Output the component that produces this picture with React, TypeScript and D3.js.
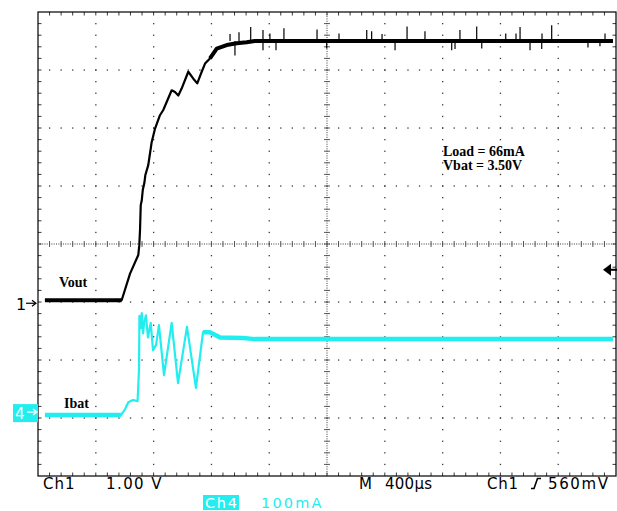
import React from 'react';
import * as d3 from 'd3';

// ---- scope settings ----
const hDivs = 10;
const vDivs = 8;
const timePerDiv = 400; // µs
const ch1VoltsPerDiv = 1; // V
const ch4mAPerDiv = 100; // mA
const ch1GroundDiv = 3.03; // divisions above bottom
const ch4GroundDiv = 1.05;
const triggerLevel = 0.56; // V

// ---- Vout (Ch1) trace: [time µs, volts] ----
const voutPoints: [number, number][] = [
  [48, 0], [579, 0], [637, 0.46], [694, 0.78], [701, 0.95], [706, 1.21], [711, 1.64],
  [718, 1.72], [725, 1.9], [736, 2.02], [743, 2.16], [763, 2.33], [775, 2.53],
  [787, 2.73], [810, 2.96], [844, 3.19], [867, 3.28], [925, 3.62], [948, 3.59],
  [971, 3.53], [994, 3.65], [1040, 3.94], [1075, 3.82], [1102, 3.74], [1133, 3.94],
  [1156, 4.08], [1190, 4.17], [1237, 4.34], [1306, 4.4], [1375, 4.43], [1444, 4.45],
  [1500, 4.47], [3979, 4.47],
];
// noisy (thick) time ranges of Vout: [tStart, tEnd]
const voutNoisy: [number, number][] = [[48, 579], [1190, 3979]];
// Vout spikes: [time µs, extreme volts]
const voutSpikesUp: [number, number][] = [
  [1329, 4.59], [1391, 4.62], [1472, 4.71], [1557, 4.66], [1605, 4.6], [1702, 4.69],
  [1931, 4.67], [2083, 4.6], [2275, 4.66], [2309, 4.64], [2381, 4.59], [2554, 4.72],
  [2678, 4.64], [2920, 4.66], [3036, 4.72], [3237, 4.6], [3308, 4.6], [3336, 4.71],
  [3488, 4.6], [3555, 4.74], [3924, 4.6],
];
const voutSpikesDown: [number, number][] = [
  [1363, 4.22], [1557, 4.31], [1647, 4.31], [1998, 4.34], [2471, 4.31], [2863, 4.31],
  [2886, 4.33], [3071, 4.34], [3405, 4.31], [3486, 4.33], [3806, 4.36], [3889, 4.38],
];

// ---- Ibat (Ch4) trace: [time µs, mA] ----
const ibatPoints: [number, number][] = [
  [48, 0], [574, 0], [602, 10], [625, 22], [657, 26], [689, 24], [699, 78], [702, 171],
  [710, 150], [718, 176], [727, 141], [735, 160], [747, 172], [761, 134], [780, 159],
  [796, 112], [817, 121], [837, 155], [872, 69], [925, 159], [969, 55], [1031, 152],
  [1093, 47], [1142, 143], [1190, 143], [1260, 134], [1419, 133], [1500, 131], [3979, 131],
];
const ibatNoisy: [number, number][] = [[48, 574], [1142, 3979]];

// ---- text ----
const ch1Label = 'Vout';
const ch4Label = 'Ibat';
const noteLines = ['Load = 66mA', 'Vbat = 3.50V'];
const statusTop = { ch: 'Ch1', scale: '1.00 V', m: 'M', time: '400µs', trig: 'Ch1', level: '560mV' };
const statusBottom = { ch: 'Ch4', scale: '100mA' };

const CYAN = '#22EEF0';

export default function App() {
  const L = 38, R = 616, T = 12, B = 476;
  const gx = d3.scaleLinear().domain([0, hDivs]).range([L, R]);
  const gy = d3.scaleLinear().domain([0, vDivs]).range([B, T]);
  const x = d3.scaleLinear().domain([0, hDivs * timePerDiv]).range([L, R]);
  const yV = d3.scaleLinear()
    .domain([-ch1GroundDiv * ch1VoltsPerDiv, (vDivs - ch1GroundDiv) * ch1VoltsPerDiv])
    .range([B, T]);
  const yI = d3.scaleLinear()
    .domain([-ch4GroundDiv * ch4mAPerDiv, (vDivs - ch4GroundDiv) * ch4mAPerDiv])
    .range([B, T]);

  const lineV = d3.line<[number, number]>().x(d => x(d[0])).y(d => yV(d[1]));
  const lineI = d3.line<[number, number]>().x(d => x(d[0])).y(d => yI(d[1]));
  const within = (pts: [number, number][], r: [number, number]) =>
    pts.filter(p => p[0] >= r[0] && p[0] <= r[1]);

  const dots: JSX.Element[] = [];
  const dotFill = '#3a3a3a';
  d3.range(1, hDivs).forEach(i => {
    if (i === hDivs / 2) return;
    d3.range(1, vDivs * 5).forEach(j => {
      dots.push(<rect key={`v${i}-${j}`} x={gx(i) - 0.6} y={gy(j / 5) - 0.6} width={1.3} height={1.3} fill={dotFill} />);
    });
  });
  d3.range(1, vDivs).forEach(j => {
    if (j === vDivs / 2) return;
    d3.range(1, hDivs * 5).forEach(i => {
      dots.push(<rect key={`h${j}-${i}`} x={gx(i / 5) - 0.6} y={gy(j) - 0.6} width={1.3} height={1.3} fill={dotFill} />);
    });
  });
  const cx = gx(hDivs / 2), cy = gy(vDivs / 2);
  d3.range(1, vDivs * 25).forEach(j => {
    dots.push(<rect key={`cv${j}`} x={cx - 0.5} y={gy(j / 25) - 0.5} width={1} height={1} fill={dotFill} />);
  });
  d3.range(1, hDivs * 25).forEach(i => {
    dots.push(<rect key={`ch${i}`} x={gx(i / 25) - 0.5} y={cy - 0.5} width={1} height={1} fill={dotFill} />);
  });
  const ticks: JSX.Element[] = [];
  d3.range(1, vDivs * 5).forEach(j => {
    const yy = gy(j / 5);
    ticks.push(<line key={`ct${j}`} x1={cx - 3} x2={cx + 3} y1={yy} y2={yy} stroke="#444" strokeWidth={0.9} />);
    ticks.push(<line key={`lt${j}`} x1={L} x2={L + 3.5} y1={yy} y2={yy} stroke="#222" strokeWidth={0.9} />);
    ticks.push(<line key={`rt${j}`} x1={R - 3.5} x2={R} y1={yy} y2={yy} stroke="#222" strokeWidth={0.9} />);
  });
  d3.range(1, hDivs * 5).forEach(i => {
    const xx = gx(i / 5);
    ticks.push(<line key={`cth${i}`} x1={xx} x2={xx} y1={cy - 3} y2={cy + 3} stroke="#444" strokeWidth={0.9} />);
    ticks.push(<line key={`tt${i}`} x1={xx} x2={xx} y1={T} y2={T + 3.5} stroke="#222" strokeWidth={0.9} />);
    ticks.push(<line key={`bt${i}`} x1={xx} x2={xx} y1={B - 3.5} y2={B} stroke="#222" strokeWidth={0.9} />);
  });

  const g1 = yV(0);
  const g4 = yI(0);
  const trig = yV(triggerLevel) + 2;
  const sans = 'DejaVu Sans, sans-serif';
  const serif = 'Liberation Serif, Times New Roman, serif';

  return (
    <svg width={617} height={511} style={{ position: 'absolute', left: 0, top: 0, background: '#fff' }}>
      <rect x={0} y={0} width={617} height={511} fill="#fff" />
      {dots}
      {ticks}
      <rect x={L} y={T} width={R - L} height={B - T} fill="none" stroke="#000" strokeWidth={1.2} />

      {/* Ibat trace */}
      {ibatNoisy.map((r, k) => (
        <path key={`ib${k}`} d={lineI(within(ibatPoints, r)) || ''} fill="none" stroke={CYAN} strokeWidth={4.5} strokeLinejoin="round" />
      ))}
      <path d={lineI(ibatPoints) || ''} fill="none" stroke={CYAN} strokeWidth={2.2} strokeLinejoin="round" />

      {/* Vout trace */}
      {voutNoisy.map((r, k) => (
        <path key={`vb${k}`} d={lineV(within(voutPoints, r)) || ''} fill="none" stroke="#000" strokeWidth={4} strokeLinejoin="round" />
      ))}
      <path d={lineV(voutPoints) || ''} fill="none" stroke="#000" strokeWidth={2.2} strokeLinejoin="round" />
      {voutSpikesUp.map((s, k) => (
        <line key={`su${k}`} x1={x(s[0])} x2={x(s[0])} y1={yV(4.47)} y2={yV(s[1])} stroke="#000" strokeWidth={1.2} />
      ))}
      {voutSpikesDown.map((s, k) => (
        <line key={`sd${k}`} x1={x(s[0])} x2={x(s[0])} y1={yV(4.47)} y2={yV(s[1])} stroke="#000" strokeWidth={1.2} />
      ))}

      {/* channel labels */}
      <text x={59} y={g1 - 13} fontFamily={serif} fontWeight="bold" fontSize={14}>{ch1Label}</text>
      <text x={64} y={g4 - 7} fontFamily={serif} fontWeight="bold" fontSize={14}>{ch4Label}</text>
      {noteLines.map((t, k) => (
        <text key={t} x={443} y={156 + k * 13.5} fontFamily={serif} fontWeight="bold" fontSize={14}>{t}</text>
      ))}

      {/* ground markers */}
      <text x={16} y={g1 + 10} fontFamily={sans} fontSize={16}>1</text>
      <path d={`M26,${g1 + 3} L35,${g1 + 3}`} stroke="#000" strokeWidth={1.2} />
      <path d={`M32,${g1} L36,${g1 + 3} L32,${g1 + 6}`} fill="none" stroke="#000" strokeWidth={1.2} />

      <rect x={13} y={g4 - 11} width={25} height={18} fill={CYAN} />
      <text x={15} y={g4 + 4} fontFamily={sans} fontSize={15} fill="#fff">4</text>
      <path d={`M27,${g4 - 3} L36,${g4 - 3}`} stroke="#fff" strokeWidth={1.2} />
      <path d={`M33,${g4 - 6} L37,${g4 - 3} L33,${g4}`} fill="none" stroke="#fff" strokeWidth={1.2} />

      {/* trigger level marker */}
      <path d={`M603,${trig} L611,${trig - 6} L611,${trig + 6} Z`} fill="#000" />
      <line x1={610} x2={617} y1={trig} y2={trig} stroke="#000" strokeWidth={2} />

      {/* status line */}
      <g fontFamily={sans} fontSize={15} fill="#000">
        <text x={43} y={489} textLength={31.5} lengthAdjust="spacing">{statusTop.ch}</text>
        <text x={106} y={489} textLength={55.5} lengthAdjust="spacing">{statusTop.scale}</text>
        <text x={359} y={489}>{statusTop.m}</text>
        <text x={385} y={489} textLength={47} lengthAdjust="spacing">{statusTop.time}</text>
        <text x={487} y={489} textLength={31} lengthAdjust="spacing">{statusTop.trig}</text>
        <text x={548} y={489} textLength={60} lengthAdjust="spacing">{statusTop.level}</text>
      </g>
      <path d="M531,488.5 L534,488.5 L537.5,478.5 L541,478.5" fill="none" stroke="#000" strokeWidth={1.6} />
      <rect x={203} y={495} width={36} height={15} fill={CYAN} />
      <text x={205} y={507.5} fontFamily={sans} fontSize={14.5} fill="#fff" textLength={32} lengthAdjust="spacing">{statusBottom.ch}</text>
      <text x={261} y={507.5} fontFamily={sans} fontSize={14.5} fill={CYAN} textLength={60.5} lengthAdjust="spacing">{statusBottom.scale}</text>
    </svg>
  );
}
